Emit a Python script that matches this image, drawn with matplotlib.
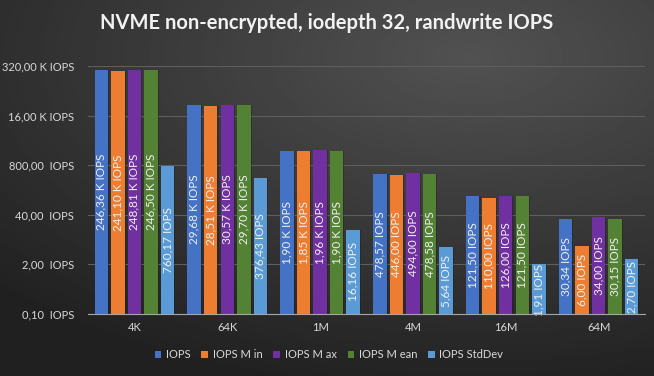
import numpy as np
import matplotlib
matplotlib.use("Agg")
import matplotlib.pyplot as plt
from matplotlib.ticker import FixedLocator, NullLocator

plt.rcParams['font.family'] = ['Lato', 'DejaVu Sans']

# data
categories = ['4K', '64K', '1M', '4M', '16M', '64M']
iops = [246360, 29680, 1900, 478.57, 121.50, 30.34]
iops_min = [241100, 28510, 1850, 446.00, 110.00, 6.00]
iops_max = [248810, 30570, 1960, 494.00, 126.00, 34.00]
iops_mean = [246500, 29700, 1900, 478.58, 121.50, 30.15]
iops_std = [760.17, 376.43, 16.16, 5.64, 1.91, 2.70]
series_names = ['IOPS', 'IOPS M in', 'IOPS M ax', 'IOPS M ean', 'IOPS StdDev']
y_ticks = [0.1, 2, 40, 800, 16000, 320000]
y_tick_labels = ['0,10  IOPS', '2,00  IOPS', '40,00  IOPS', '800,00  IOPS',
                 '16,00 K IOPS', '320,00 K IOPS']

colors = ['#4472C4', '#ED7D31', '#7030A0', '#548235', '#5B9BD5']
series = [iops, iops_min, iops_max, iops_mean, iops_std]


def fmt(v):
    if v >= 1000:
        s = '%.2f K IOPS' % (v / 1000)
    else:
        s = '%.2f IOPS' % v
    return s.replace('.', ',')


fig = plt.figure(figsize=(6.54, 3.76), dpi=100)

# background gradient
bg = fig.add_axes([0, 0, 1, 1])
yy, xx = np.mgrid[0:1:200j, 0:1:350j]
d = np.sqrt(((xx - 0.72) / 1.0) ** 2 + ((yy - 0.15) / 0.9) ** 2)
shade = 0.32 - 0.19 * np.clip(d, 0, 1)
bg.imshow(shade, cmap='gray', vmin=0, vmax=1, aspect='auto', extent=[0, 1, 1, 0])
bg.set_axis_off()

ax = fig.add_axes([88 / 654, 1 - 314 / 376, 557 / 654, 248 / 376])
ax.patch.set_alpha(0)
ax.set_yscale('log')
ax.set_ylim(0.1, 320000)
ax.set_xlim(-0.5, 5.5)

x = np.arange(len(categories))
step = 0.178
width = 0.145
for k, (vals, c, name) in enumerate(zip(series, colors, series_names)):
    pos = x + (k - 2) * step
    ax.bar(pos + 0.012, vals, width=width, bottom=0.1, color='#1a1a1a', alpha=0.35, zorder=2)
    ax.bar(pos, vals, width=width, bottom=0.1, color=c, label=name, zorder=3)
    for p, v in zip(pos, vals):
        mid = np.sqrt(v * 0.1)
        ax.text(p, mid, fmt(v), rotation=90, ha='center', va='center',
                fontsize=8.5, color='#f0f0f0', zorder=4)

ax.yaxis.set_major_locator(FixedLocator(y_ticks))
ax.yaxis.set_minor_locator(NullLocator())
ax.set_yticklabels(y_tick_labels)
ax.set_xticks(x)
ax.set_xticklabels(categories)
ax.tick_params(axis='both', length=0, colors='#d9d9d9', labelsize=8)
ax.tick_params(axis='y', pad=10)
ax.tick_params(axis='x', pad=6)
ax.grid(axis='y', color='#5e5e5e', linewidth=0.8, zorder=0)
ax.set_axisbelow(True)
for s in ['top', 'right', 'left']:
    ax.spines[s].set_visible(False)
ax.spines['bottom'].set_color('#a6a6a6')
ax.spines['bottom'].set_zorder(5)

fig.text(0.5, 0.938, 'NVME non-encrypted, iodepth 32, randwrite IOPS',
         ha='center', va='center', fontsize=14.5, fontweight='bold', color='#f2f2f2')

handles, labels = ax.get_legend_handles_labels()
leg = fig.legend(handles, labels, loc='center', bbox_to_anchor=(0.503, 1 - 355 / 376), ncol=5,
                 frameon=False, fontsize=8, handlelength=0.6, handleheight=0.6,
                 handletextpad=0.4, columnspacing=1.0)
for t in leg.get_texts():
    t.set_color('#d9d9d9')

fig.savefig('out.png', dpi=100)
